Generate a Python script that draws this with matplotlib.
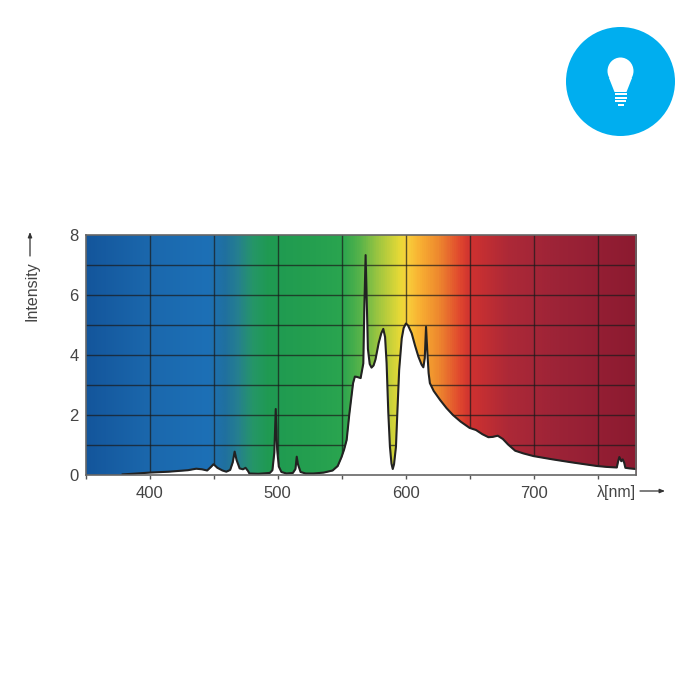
import numpy as np
import matplotlib
matplotlib.use("Agg")
import matplotlib.pyplot as plt
from matplotlib.colors import LinearSegmentedColormap
from matplotlib.patches import Circle, Ellipse, Polygon, Rectangle

plt.rcParams['font.family'] = ['Liberation Sans', 'DejaVu Sans']

wavelength = [379, 390, 400, 415, 430, 436.5, 441, 445, 448, 450, 453, 457, 460, 463, 465, 466.5, 468, 470.4,
              473, 475, 477, 478, 485, 494, 496, 497.5, 498.6, 499.7, 501, 503, 507, 512, 514, 515, 516, 518,
              522, 528, 536, 543, 547, 550, 552, 554, 556, 559, 560.4, 562, 564.9, 567, 567.8, 568.8, 569.8,
              570.6, 572, 573.4, 575, 576.5, 579, 581, 582.6, 584, 585.2, 586.5, 587.8, 589, 590, 591, 592.5,
              593.7, 595, 597, 598.5, 600.3, 602, 604.8, 607.5, 610, 612.5, 613.9, 615, 616, 617, 618, 619, 622,
              627, 632, 637, 643, 650, 655, 660, 664.7, 668, 672, 676, 680, 685.6, 692, 700, 715, 730, 749.5,
              757, 765, 766, 767, 768.5, 769.6, 770.7, 771.7, 775, 780]
intensity = [0.02, 0.05, 0.08, 0.11, 0.16, 0.21, 0.19, 0.15, 0.27, 0.36, 0.24, 0.15, 0.11, 0.17, 0.42, 0.78,
             0.5, 0.22, 0.19, 0.24, 0.13, 0.05, 0.04, 0.07, 0.16, 0.75, 2.2, 0.85, 0.28, 0.1, 0.05, 0.07, 0.2,
             0.61, 0.35, 0.1, 0.05, 0.05, 0.08, 0.15, 0.3, 0.6, 0.85, 1.17, 2.0, 3.06, 3.28, 3.27, 3.23, 3.72,
             5.6, 7.33, 5.6, 4.2, 3.7, 3.58, 3.65, 3.85, 4.4, 4.72, 4.87, 4.6, 3.72, 2.1, 0.94, 0.38, 0.2, 0.36,
             0.94, 2.2, 3.5, 4.55, 4.9, 5.05, 4.98, 4.72, 4.3, 3.95, 3.68, 3.59, 3.9, 4.94, 4.1, 3.4, 3.06, 2.8,
             2.5, 2.23, 2.0, 1.78, 1.57, 1.5, 1.36, 1.26, 1.27, 1.31, 1.2, 1.02, 0.81, 0.72, 0.63, 0.52, 0.42,
             0.3, 0.27, 0.25, 0.45, 0.6, 0.46, 0.52, 0.42, 0.24, 0.22, 0.2]

color_nm = [350, 400, 445, 458, 468, 480, 492, 525, 550, 564, 580, 595, 600, 610, 625, 642, 650, 680, 720, 780]
color_hex = ['#14569c', '#1b68ad', '#1d70b6', '#20709f', '#257f90', '#259667', '#1f9a52', '#249f4f', '#2aa54f',
             '#58b34a', '#a6c83f', '#e6d936', '#f8d23c', '#f9b233', '#ee8a2e', '#e0482e', '#cf3230', '#ad2937',
             '#9c2337', '#8c1a30']
x_ticks = [350, 400, 450, 500, 550, 600, 650, 700, 750]
x_labels = ['', '400', '', '500', '', '600', '', '700', '']
y_ticks = [0, 2, 4, 6, 8]
y_grid = [1, 2, 3, 4, 5, 6, 7]

TXT = '#444444'
fig = plt.figure(figsize=(7, 7), dpi=100)
ax = fig.add_axes([85.5/700, 1-475/700, (636-85.5)/700, 240/700])
ax.set_xlim(350, 780)
ax.set_ylim(0, 8)

pos = [(c - 350) / 430 for c in color_nm]
cmap = LinearSegmentedColormap.from_list('spectrum', list(zip(pos, color_hex)))
ax.imshow(np.linspace(0, 1, 860)[None, :], cmap=cmap, extent=[350, 780, 0, 8], aspect='auto', zorder=0)

for x in x_ticks[1:]:
    ax.axvline(x, color='#1a1a1a', lw=1.0, alpha=0.7, zorder=1)
for y in y_grid:
    ax.axhline(y, color='#1a1a1a', lw=1.0, alpha=0.7, zorder=1)

ax.fill_between(wavelength, 0, intensity, color='white', lw=0, zorder=2)
ax.plot(wavelength, intensity, color='#222222', lw=1.5, zorder=3, solid_joinstyle='round')

ax.set_xticks(x_ticks)
ax.set_xticklabels(x_labels)
ax.set_yticks(y_ticks)
ax.tick_params(axis='x', length=3, width=1, color='#555555', labelsize=12, labelcolor=TXT, pad=5)
ax.tick_params(axis='y', length=0, labelsize=12, labelcolor=TXT, pad=5)
for s in ax.spines.values():
    s.set_color('#666666')
    s.set_linewidth(1.2)
    s.set_zorder(4)

# overlay in pixel coordinates for the annotations and the icon
ov = fig.add_axes([0, 0, 1, 1], zorder=5)
ov.set_xlim(0, 700)
ov.set_ylim(700, 0)
ov.axis('off')
ov.text(32, 291, 'Intensity', rotation=90, ha='center', va='center', fontsize=11.5, color=TXT)
ov.text(636, 493, 'λ[nm]', ha='right', va='center', fontsize=11.5, color=TXT)
ov.annotate('', xy=(30, 232), xytext=(30, 256),
            arrowprops=dict(arrowstyle='-|>,head_width=0.12,head_length=0.3', color='#333333', lw=0.9,
                            shrinkA=0, shrinkB=0))
ov.annotate('', xy=(665, 491), xytext=(640, 491),
            arrowprops=dict(arrowstyle='-|>,head_width=0.12,head_length=0.3', color='#333333', lw=0.9,
                            shrinkA=0, shrinkB=0))

ov.add_patch(Circle((620.5, 81.5), 54.5, color='#00aeef', lw=0))
ov.add_patch(Ellipse((620.5, 71), 26, 27, color='white', lw=0))
ov.add_patch(Polygon([(609, 78), (632, 78), (626.5, 92), (614.5, 92)], color='white', lw=0))
for yy, w in [(94, 12), (97.5, 12), (101, 11)]:
    ov.add_patch(Rectangle((620.5 - w/2, yy - 0.8), w, 1.9, color='white', lw=0))
ov.add_patch(Rectangle((617.5, 103.5), 6, 2, color='white', lw=0))

fig.savefig('out.png', dpi=100, facecolor='white')
